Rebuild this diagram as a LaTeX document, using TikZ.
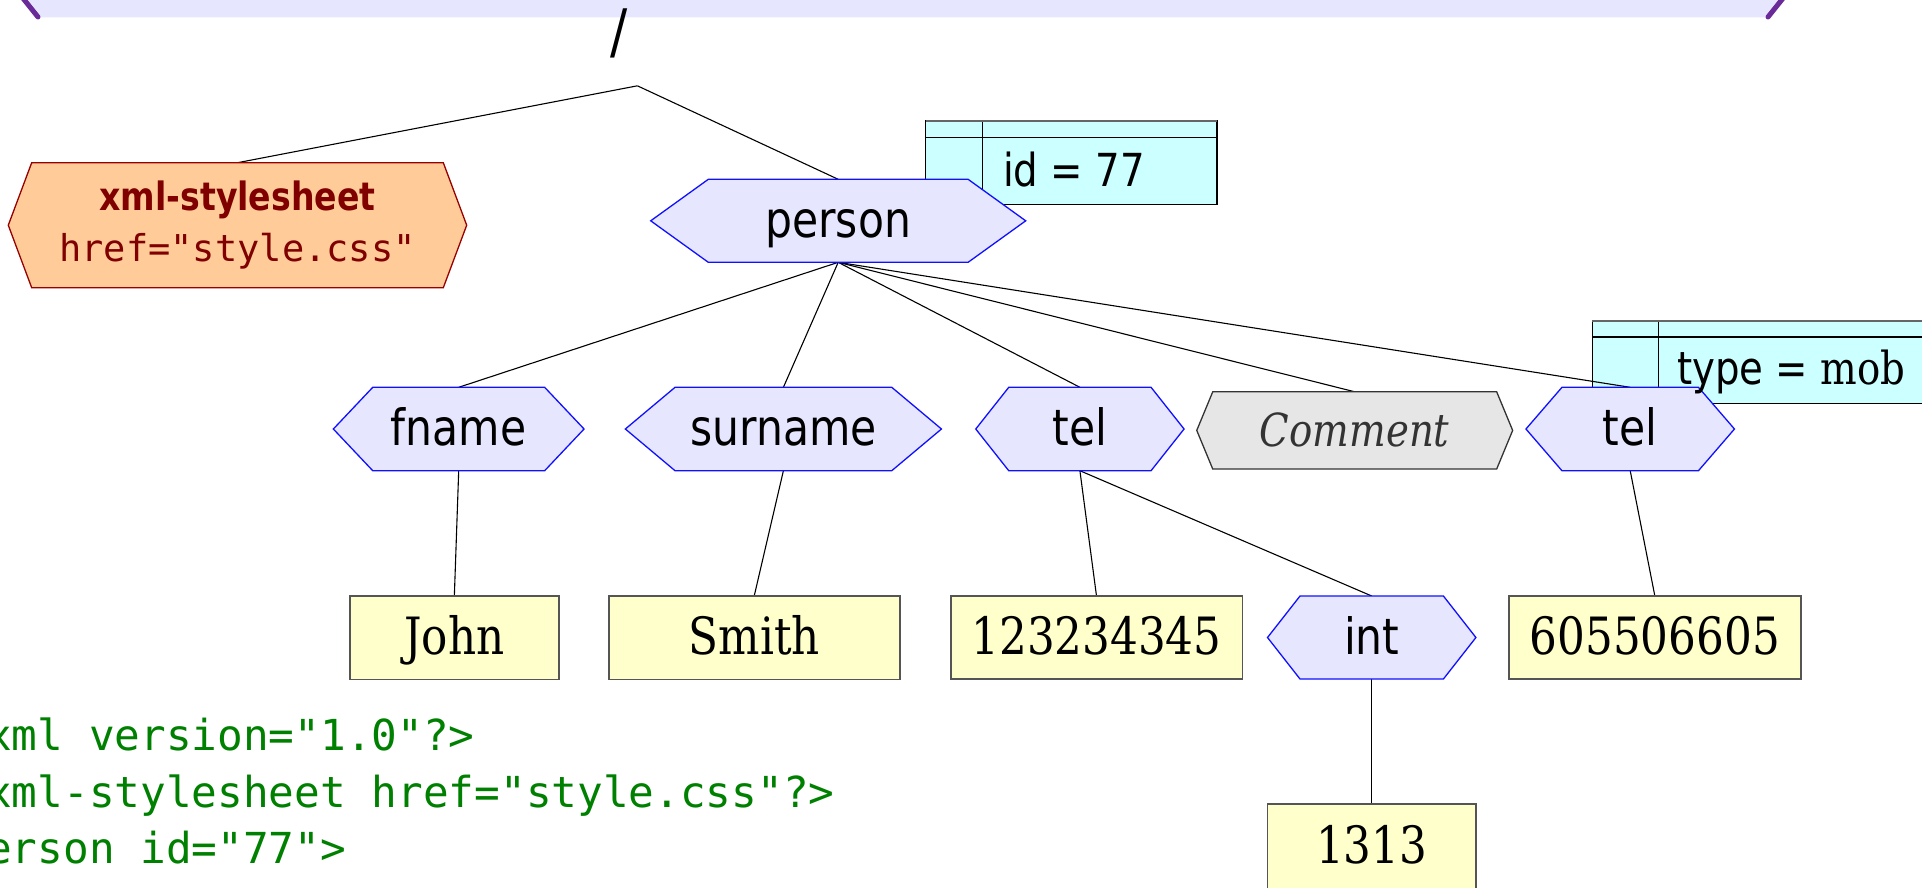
\documentclass[tikz,border=0pt]{standalone}
\usepackage{fontspec}
\newfontfamily\elfont{DejaVu Sans}[FakeStretch=0.85]
\newfontfamily\valfont{DejaVu Serif}[FakeStretch=0.85]
\newfontfamily\codefont{DejaVu Sans Mono}

\definecolor{elfill}{HTML}{E6E6FF}
\definecolor{elline}{HTML}{1010FF}
\definecolor{valfill}{HTML}{FFFFCC}
\definecolor{valline}{HTML}{555555}
\definecolor{attrfill}{HTML}{CCFFFF}
\definecolor{cmtfill}{HTML}{E6E6E6}
\definecolor{cmtline}{HTML}{333333}
\definecolor{pifill}{HTML}{FFCC99}
\definecolor{piline}{HTML}{990000}
\definecolor{pitext}{HTML}{800000}
\definecolor{codegreen}{HTML}{008000}
\definecolor{rootside}{HTML}{6A2A98}

\pgfdeclarelayer{back}
\pgfdeclarelayer{edges}
\pgfdeclarelayer{shapes}
\pgfsetlayers{back,edges,shapes,main}

% hexagonal outline around a named node; #2 = horizontal inset of the corners
\newcommand\hexoutline[3]{%
  \begin{pgfonlayer}{shapes}
    \path[#3] (#1.west) -- ([xshift=#2pt]#1.north west) -- ([xshift=-#2pt]#1.north east)
      -- (#1.east) -- ([xshift=-#2pt]#1.south east) -- ([xshift=#2pt]#1.south west) -- cycle;
  \end{pgfonlayer}}

% header row and key column of an attribute table
\newcommand\tabrules[3]{%
  \draw[tabrule] ([yshift=-#3pt]#1.north west) -- ([yshift=-#3pt]#1.north east);
  \draw[tabrule] ([xshift=#2pt]#1.north west) -- ([xshift=#2pt]#1.south west);
  \draw[tabtop] (#1.north west) -- (#1.north east);}

\tikzset{
  elnode/.style={inner sep=0pt, outer sep=0pt, text height=42pt, text depth=9pt,
    font=\elfont\fontsize{50}{60}\selectfont},
  cmtnode/.style={inner sep=0pt, outer sep=0pt, text height=42pt, text depth=10pt,
    text=cmtline, font=\valfont\itshape\fontsize{45.5}{54}\selectfont},
  pinode/.style={inner sep=0pt, outer sep=0pt, align=center, text=pitext,
    font=\elfont\bfseries\fontsize{39}{51}\selectfont},
  valnode/.style={draw=valline, fill=valfill, line width=1.6pt, inner sep=0pt, outer sep=0pt,
    text height=42pt, text depth=9pt, font=\valfont\fontsize{51.4}{60}\selectfont},
  hexel/.style={draw=elline, fill=elfill, line width=1.3pt},
  hexcmt/.style={draw=cmtline, fill=cmtfill, line width=1.3pt},
  hexpi/.style={draw=piline, fill=pifill, line width=1.3pt},
  attrtab/.style={draw=black, fill=attrfill, line width=1.3pt, inner sep=0pt, outer sep=0pt,
    anchor=north west},
  tabrule/.style={draw=black, line width=1.2pt},
  tabtop/.style={draw=black!60, line width=2.2pt},
  attrtext/.style={inner sep=0pt, anchor=base west, font=\elfont\fontsize{45.5}{54}\selectfont},
  link/.style={draw=black, line width=1.1pt},
  codeline/.style={inner sep=0pt, anchor=base west, text=codegreen,
    font=\codefont\fontsize{42.7}{50}\selectfont},
  slash/.style={inner sep=0pt, font=\elfont\fontsize{60}{70}\selectfont},
  rootedge/.style={draw=rootside, line width=5pt, line cap=round},
}

\begin{document}
\begin{tikzpicture}[x=1pt, y=-1pt]
\useasboundingbox (0,0) rectangle (1922,887);
\clip (0,0) rectangle (1922,887);

% lower edge of the document root
\fill[elfill] (18,-8) -- (38,17.3) -- (1768,17.3) -- (1788,-8) -- cycle;
\draw[rootedge] (18,-8) -- (38,17);
\draw[rootedge] (1788,-8) -- (1768,17);
\node[slash] (root) at (619,33) {/};
\coordinate (rootjoin) at (637.4,85.8);

% attribute tables
\begin{pgfonlayer}{back}
  \node[attrtab, minimum width=291.3pt, minimum height=83.3pt] (idtab) at (925.7,121) {};
  \tabrules{idtab}{57}{16.3}
  \node[attrtab, minimum width=347.7pt, minimum height=82.3pt] (typetab) at (1592.3,321) {};
  \tabrules{typetab}{66.2}{16}
\end{pgfonlayer}
\node[attrtext] (idattr) at (1003,186) {id = 77};
\node[attrtext] (typeattr) at (1677,384) {type = {\valfont mob}};

% processing instruction
\node[pinode, minimum width=458.4pt, minimum height=125pt] (sheet) at (237.5,225.2)
  {xml-stylesheet\\{\codefont\mdseries\fontsize{37}{51}\selectfont href="style.css"}};
\hexoutline{sheet}{23.4}{hexpi}

% elements
\node[elnode, minimum width=375pt, minimum height=83pt] (person) at (838.2,220.8) {person};
\hexoutline{person}{57.6}{hexel}
\node[elnode, minimum width=250.7pt, minimum height=83.4pt] (fname) at (458.7,429) {fname};
\hexoutline{fname}{39.4}{hexel}
\node[elnode, minimum width=316.1pt, minimum height=83.4pt] (surname) at (783.4,429) {surname};
\hexoutline{surname}{49.7}{hexel}
\node[elnode, minimum width=208.3pt, minimum height=83.4pt] (telA) at (1079.9,429) {tel};
\hexoutline{telA}{33}{hexel}
\node[cmtnode, minimum width=315.9pt, minimum height=77.3pt] (comment) at (1354.7,430.4) {Comment};
\hexoutline{comment}{16}{hexcmt}
\node[elnode, minimum width=208.5pt, minimum height=83.4pt] (telB) at (1630.2,429) {tel};
\hexoutline{telB}{36}{hexel}
\node[elnode, minimum width=208.4pt, minimum height=83pt] (int) at (1371.7,637.5) {int};
\hexoutline{int}{32.5}{hexel}

% text values
\node[valnode, minimum width=208.7pt, minimum height=83.3pt] (john) at (454.35,637.65) {John};
\node[valnode, minimum width=291pt, minimum height=83.3pt] (smith) at (754.2,637.65) {Smith};
\node[valnode, minimum width=291.6pt, minimum height=83pt] (numA) at (1096.5,637.5) {123234345};
\node[valnode, minimum width=291.7pt, minimum height=83pt] (numB) at (1654.85,637.5) {605506605};
\node[valnode, minimum width=208.4pt, minimum height=86pt] (numC) at (1371.7,847) {1313};

% tree links
\begin{pgfonlayer}{edges}
  \draw[link] (rootjoin) -- (sheet.north);
  \draw[link] (rootjoin) -- (person.north);
  \draw[link] (person.south) -- (fname.north);
  \draw[link] (person.south) -- (surname.north);
  \draw[link] (person.south) -- (telA.north);
  \draw[link] (person.south) -- (comment.north);
  \draw[link] (person.south) -- (telB.north);
  \draw[link] (fname.south) -- (john.north);
  \draw[link] (surname.south) -- (smith.north);
  \draw[link] (telA.south) -- (numA.north);
  \draw[link] (telA.south) -- (int.north);
  \draw[link] (telB.south) -- (numB.north);
  \draw[link] (int.south) -- (numC.north);
\end{pgfonlayer}

% source listing
\node[codeline] (srcA) at (-14,750) {xml version="1.0"?>};
\node[codeline] (srcB) at (-14,807) {xml-stylesheet href="style.css"?>};
\node[codeline] (srcC) at (-14,863) {erson id="77">};
\end{tikzpicture}
\end{document}
